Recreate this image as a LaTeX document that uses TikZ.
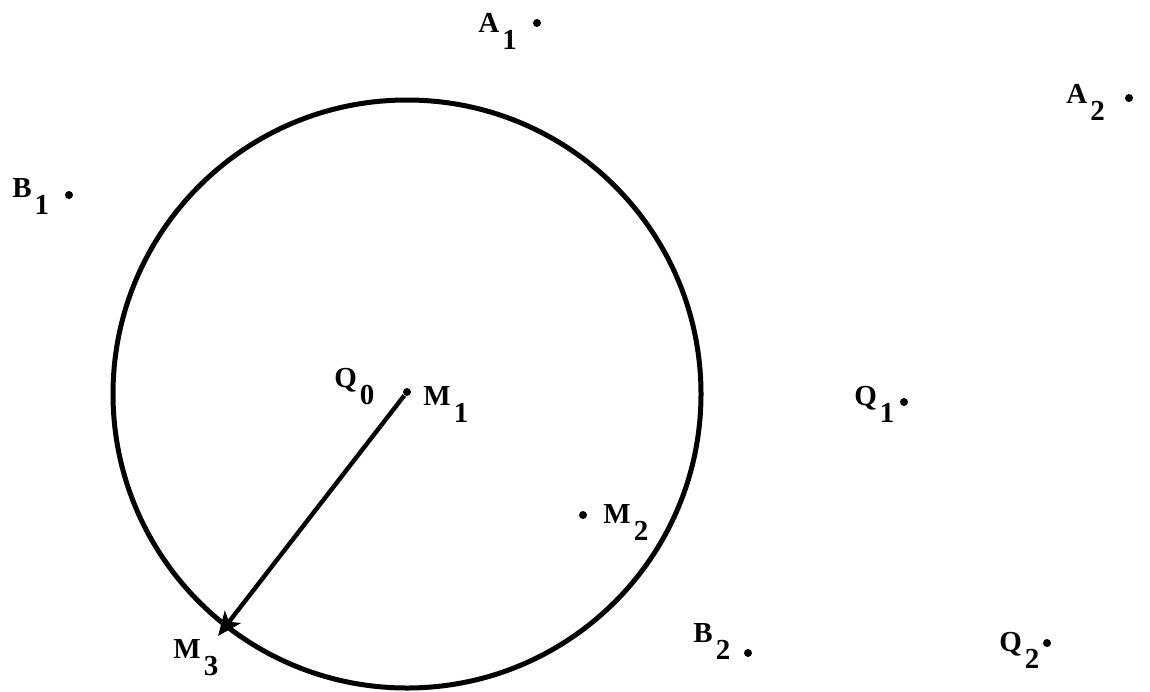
\documentclass[tikz,border=0pt]{standalone}
\usepackage{fontspec}
\setmainfont{Liberation Serif}
\usetikzlibrary{arrows.meta,positioning}
\newcommand{\sub}[1]{\kern1.5pt\raisebox{-8.5pt}{#1}}
\tikzset{
  lbl/.style={font=\bfseries\fontsize{14.5}{15}\selectfont, inner sep=0pt, anchor=base west},
  spot/.style={circle, fill=black, inner sep=0pt, minimum size=4pt},
}
\begin{document}
\begin{tikzpicture}[x=0.5pt,y=-0.5pt]
		\useasboundingbox (0,0) rectangle (1150,691);
		% Circle and radius
		\draw[line width=2.5pt] (407,394) circle (147pt);
		\node[spot] (m1) at (407,392) {};
		\coordinate (m3) at (218,636);
		\draw[-{Stealth[length=12pt,width=10pt,inset=3pt]}, line width=2.2pt] (m1) -- (m3);
		% Points
		\node[spot] (a1) at (537,23) {};
		\node[spot] (a2) at (1129,98) {};
		\node[spot] (b1) at (69,195) {};
		\node[spot] (m2) at (583,515) {};
		\node[spot] (q1) at (904,402) {};
		\node[spot] (b2) at (748,653) {};
		\node[spot] (q2) at (1047,643) {};
		% Labels
		\node[lbl] (A1) at (478,32) {A\sub{1}};
		\node[lbl] (A2) at (1066,103) {A\sub{2}};
		\node[lbl] (B1) at (12,197) {B\sub{1}};
		\node[lbl] (Q0) at (334,387) {Q\sub{0}};
		\node[lbl] (M1) at (423,405) {M\sub{1}};
		\node[lbl] (M2) at (603,523) {M\sub{2}};
		\node[lbl] (M3) at (173,658) {M\sub{3}};
		\node[lbl] (Q1) at (854,405) {Q\sub{1}};
		\node[lbl] (B2) at (693,642) {B\sub{2}};
		\node[lbl] (Q2) at (999,651) {Q\sub{2}};
	\end{tikzpicture}
\end{document}
